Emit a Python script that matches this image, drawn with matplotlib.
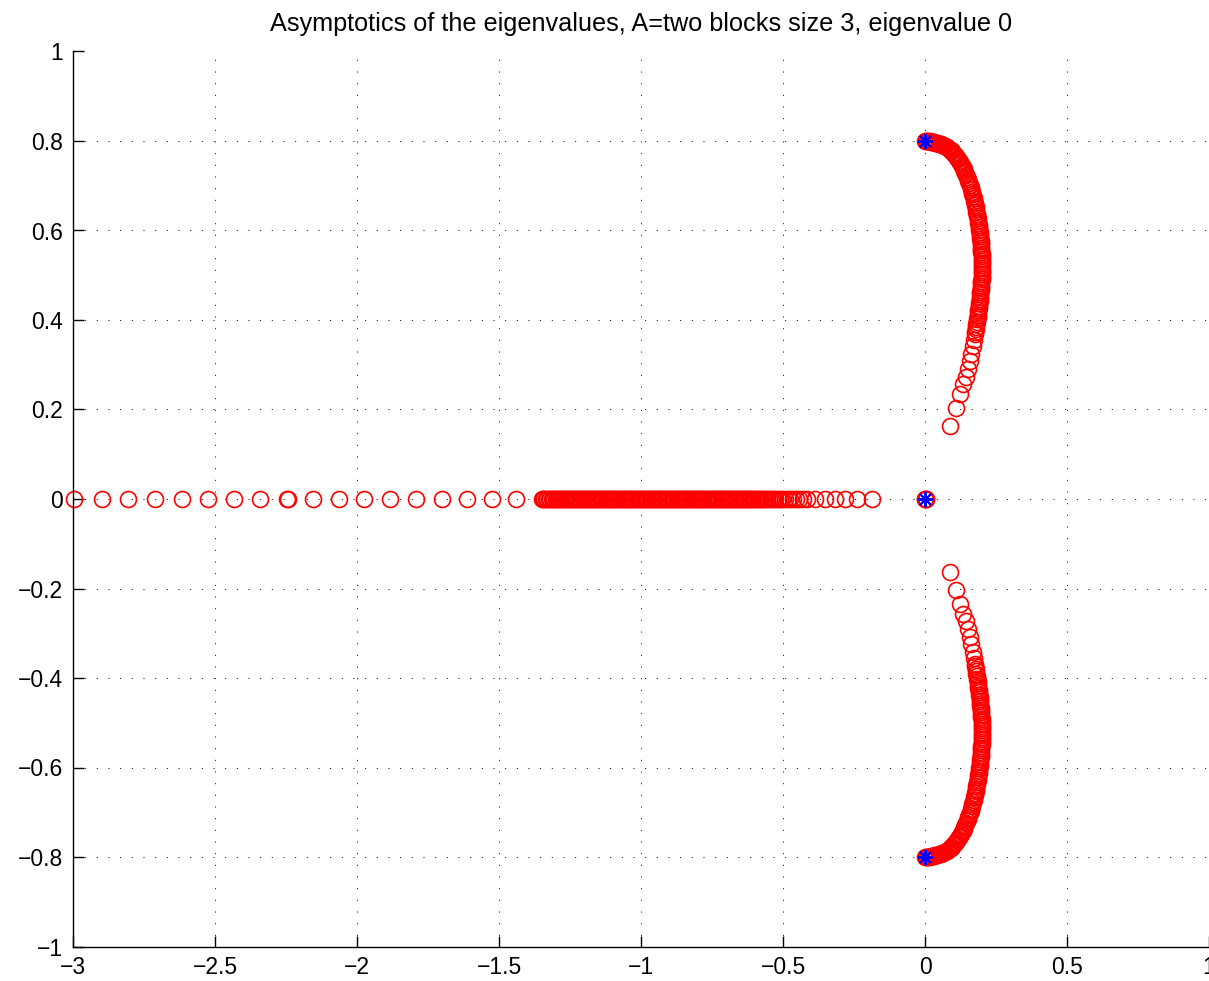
import matplotlib
matplotlib.use("Agg")
import matplotlib.pyplot as plt

plt.rcParams['font.family'] = ['Liberation Sans', 'DejaVu Sans']

# eigenvalues on the real axis (left, coarse part)
real_far = [-2.996, -2.898, -2.805, -2.711, -2.617, -2.526, -2.433, -2.340,
            -2.248, -2.243, -2.156, -2.063, -1.975, -1.884, -1.792, -1.702,
            -1.611, -1.523, -1.440]

# eigenvalues on the real axis (dense part)
real_near = [-1.350, -1.345, -1.340, -1.335, -1.330, -1.325, -1.320, -1.315, -1.310, -1.305,
             -1.300, -1.295, -1.290, -1.285, -1.280, -1.275, -1.270, -1.265, -1.260, -1.255,
             -1.250, -1.245, -1.240, -1.235, -1.230, -1.225, -1.220, -1.215, -1.210, -1.205,
             -1.200, -1.195, -1.190, -1.185, -1.180, -1.175, -1.170, -1.165, -1.160, -1.155,
             -1.150, -1.145, -1.140, -1.135, -1.130, -1.125, -1.120, -1.115, -1.110, -1.105,
             -1.100, -1.095, -1.090, -1.085, -1.080, -1.075, -1.070, -1.065, -1.060, -1.055,
             -1.050, -1.045, -1.040, -1.035, -1.030, -1.025, -1.020, -1.015, -1.010, -1.005,
             -1.000, -0.995, -0.990, -0.985, -0.980, -0.975, -0.970, -0.965, -0.960, -0.955,
             -0.950, -0.945, -0.940, -0.935, -0.930, -0.925, -0.920, -0.915, -0.910, -0.905,
             -0.900, -0.895, -0.890, -0.885, -0.880, -0.875, -0.870, -0.865, -0.860, -0.855,
             -0.850, -0.845, -0.840, -0.835, -0.830, -0.825, -0.820, -0.815, -0.810, -0.805,
             -0.800, -0.795, -0.790, -0.785, -0.780, -0.775, -0.770, -0.765, -0.760, -0.755,
             -0.750, -0.745, -0.740, -0.735, -0.730, -0.725, -0.720, -0.715, -0.710, -0.705,
             -0.700, -0.695, -0.690, -0.685, -0.680, -0.675, -0.670, -0.665, -0.660, -0.655,
             -0.650, -0.645, -0.640, -0.635, -0.630, -0.625, -0.620, -0.615, -0.610, -0.605,
             -0.600, -0.594, -0.588, -0.582, -0.576, -0.570, -0.563, -0.556, -0.549, -0.542,
             -0.535, -0.527, -0.519, -0.511, -0.502, -0.493, -0.484, -0.474, -0.464, -0.453,
             -0.442, -0.430, -0.417, -0.387, -0.352, -0.317, -0.282, -0.241, -0.186]

# eigenvalues staying at zero
zero_re = [0.0, 0.001, 0.002, 0.003]

# upper complex branch (lower branch is its conjugate)
branch_re = [0.000, 0.004, 0.008, 0.012, 0.016, 0.020, 0.024, 0.028, 0.032, 0.036,
             0.040, 0.044, 0.048, 0.052, 0.056, 0.060, 0.064, 0.068, 0.072, 0.076,
             0.080, 0.084, 0.088, 0.092, 0.096, 0.100, 0.103, 0.107, 0.110, 0.114,
             0.117, 0.121, 0.124, 0.127, 0.130, 0.133, 0.136, 0.139, 0.142, 0.145,
             0.148, 0.150, 0.153, 0.156, 0.158, 0.161, 0.163, 0.165, 0.167, 0.169,
             0.171, 0.173, 0.175, 0.177, 0.178, 0.180, 0.181, 0.183, 0.184, 0.186,
             0.187, 0.188, 0.189, 0.190, 0.191, 0.192, 0.193, 0.194, 0.195, 0.196,
             0.196, 0.197, 0.197, 0.198, 0.198, 0.199, 0.199, 0.200, 0.200, 0.200,
             0.200, 0.200, 0.200, 0.200, 0.199, 0.199, 0.199, 0.198, 0.198, 0.197,
             0.197, 0.196, 0.195, 0.195, 0.194, 0.193, 0.192, 0.191, 0.190, 0.189,
             0.188, 0.187, 0.186, 0.185, 0.184, 0.182, 0.181, 0.179, 0.178, 0.176,
             0.175, 0.172, 0.168, 0.163, 0.157, 0.150, 0.143, 0.135, 0.123, 0.108,
             0.088]
branch_im = [0.800, 0.800, 0.800, 0.799, 0.799, 0.798, 0.798, 0.797, 0.797, 0.796,
             0.796, 0.795, 0.794, 0.793, 0.793, 0.792, 0.791, 0.789, 0.788, 0.787,
             0.785, 0.783, 0.781, 0.779, 0.777, 0.774, 0.772, 0.769, 0.766, 0.763,
             0.759, 0.756, 0.752, 0.749, 0.745, 0.741, 0.737, 0.733, 0.729, 0.725,
             0.720, 0.716, 0.711, 0.707, 0.702, 0.697, 0.692, 0.687, 0.682, 0.677,
             0.672, 0.667, 0.662, 0.657, 0.652, 0.647, 0.642, 0.637, 0.632, 0.627,
             0.622, 0.617, 0.612, 0.607, 0.602, 0.597, 0.592, 0.587, 0.582, 0.577,
             0.572, 0.567, 0.562, 0.557, 0.552, 0.547, 0.542, 0.537, 0.532, 0.527,
             0.522, 0.517, 0.512, 0.507, 0.502, 0.497, 0.492, 0.487, 0.482, 0.477,
             0.472, 0.467, 0.462, 0.457, 0.452, 0.447, 0.442, 0.437, 0.432, 0.427,
             0.422, 0.417, 0.412, 0.407, 0.402, 0.396, 0.391, 0.385, 0.380, 0.374,
             0.368, 0.355, 0.341, 0.325, 0.308, 0.290, 0.273, 0.257, 0.234, 0.203,
             0.163]

# limit points (blue stars)
limit_re = [0.0, 0.0, 0.0]
limit_im = [0.8, 0.0, -0.8]

fig = plt.figure(figsize=(12.09, 9.81), dpi=100)
ax = fig.add_axes([73 / 1209, 1 - 946.5 / 981, 1 - 73 / 1209, (946.5 - 51.5) / 981])

circ = dict(linestyle='none', marker='o', markersize=11.5, markerfacecolor='none',
            markeredgecolor='red', markeredgewidth=1.2, clip_on=False)

ax.plot(real_far, [0] * len(real_far), **circ)
ax.plot(real_near, [0] * len(real_near), **circ)
ax.plot(zero_re, [0] * len(zero_re), **circ)
ax.plot(branch_re, branch_im, **circ)
ax.plot(branch_re, [-v for v in branch_im], **circ)

ax.plot(limit_re, limit_im, linestyle='none', marker=(8, 2, 0), markersize=11,
        markeredgecolor='blue', markeredgewidth=1.4, clip_on=False)

ax.set_xlim(-3, 1)
ax.set_ylim(-1, 1)
ax.set_xticks([-3, -2.5, -2, -1.5, -1, -0.5, 0, 0.5, 1])
ax.set_xticklabels(['\u22123', '\u22122.5', '\u22122', '\u22121.5', '\u22121',
                    '\u22120.5', '0', '0.5', '1'])
ax.set_yticks([-1, -0.8, -0.6, -0.4, -0.2, 0, 0.2, 0.4, 0.6, 0.8, 1])
ax.set_yticklabels(['\u22121', '\u22120.8', '\u22120.6', '\u22120.4', '\u22120.2',
                    '0', '0.2', '0.4', '0.6', '0.8', '1'])

ax.grid(True, color='black', linestyle=(0, (1, 11)), linewidth=0.7)
ax.set_axisbelow(True)
ax.spines['top'].set_visible(False)
ax.spines['right'].set_visible(False)
ax.spines['left'].set_linewidth(1.0)
ax.spines['bottom'].set_linewidth(1.0)
ax.tick_params(direction='in', length=8, width=1.0, labelsize=16.5, pad=7)

ax.set_title('Asymptotics of the eigenvalues, A=two blocks size 3, eigenvalue 0',
             fontsize=18.2, pad=15)

fig.savefig('out.png', dpi=100)
